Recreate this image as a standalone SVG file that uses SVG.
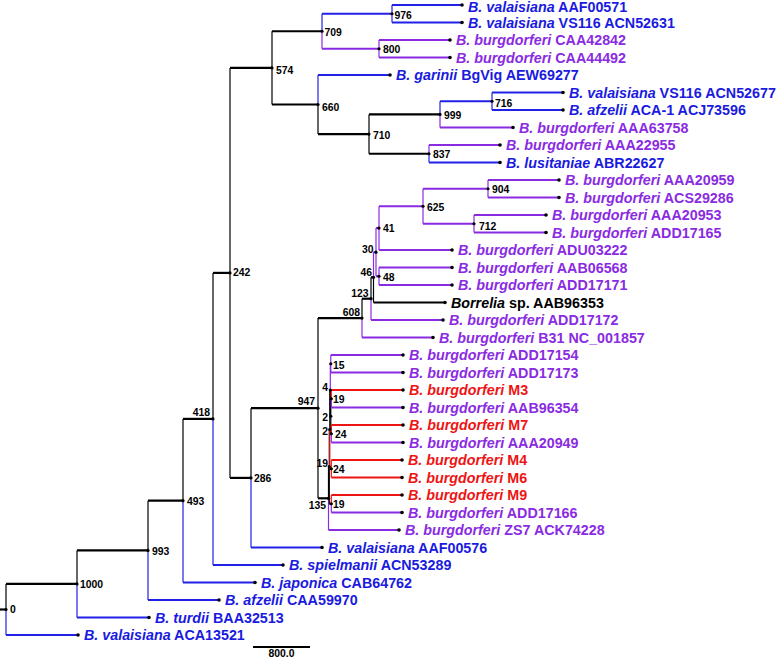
<svg xmlns="http://www.w3.org/2000/svg" width="777" height="658" viewBox="0 0 777 658">
<style>
.h{fill:none;stroke-width:2.2}
.v{fill:none;stroke-width:1.2}
.k{stroke:#000}.b{stroke:#2020e6}.p{stroke:#8a2be2}.r{stroke:#ee1414}
.lf{font-family:"Liberation Sans",Arial,sans-serif;font-weight:bold;font-size:14.3px}
.nl{font-family:"Liberation Sans",Arial,sans-serif;font-weight:bold;font-size:10.4px;fill:#000}
.ne{text-anchor:end}
.i{font-style:italic}
.cb{fill:#1a1ae0}.cp{fill:#8a2be2}.cr{fill:#ee1414}.ck{fill:#000}
.dot{fill:#000}
</style>
<g id="connectors">
<path class="h k" d="M0 609.5H6"/>
<path class="v k" d="M6 609.5V583.9"/><path class="h k" d="M6 583.9H77"/>
<path class="v b" d="M6 609.5V635"/><path class="h b" d="M6 635H78"/>
<path class="v k" d="M77 583.9V550.4"/><path class="h k" d="M77 550.4H148"/>
<path class="v b" d="M77 583.9V617.5"/><path class="h b" d="M77 617.5H149"/>
<path class="v k" d="M148 550.4V500.7"/><path class="h k" d="M148 500.7H183"/>
<path class="v b" d="M148 550.4V600"/><path class="h b" d="M148 600H219"/>
<path class="v k" d="M183 500.7V418.9"/><path class="h k" d="M183 418.9H213"/>
<path class="v b" d="M183 500.7V582.5"/><path class="h b" d="M183 582.5H255"/>
<path class="v k" d="M213 418.9V272.9"/><path class="h k" d="M213 272.9H230"/>
<path class="v b" d="M213 418.9V565"/><path class="h b" d="M213 565H283"/>
<path class="v k" d="M230 272.9V67.9"/><path class="h k" d="M230 67.9H272"/>
<path class="v k" d="M230 272.9V477.9"/><path class="h k" d="M230 477.9H251"/>
<path class="v k" d="M272 67.9V31.25"/><path class="h k" d="M272 31.25H322"/>
<path class="v k" d="M272 67.9V104.5"/><path class="h k" d="M272 104.5H318"/>
<path class="v b" d="M322 31.25V13.75"/><path class="h b" d="M322 13.75H392"/>
<path class="v p" d="M322 31.25V48.75"/><path class="h p" d="M322 48.75H379"/>
<path class="v b" d="M392 13.75V5"/><path class="h b" d="M392 5H462"/>
<path class="v b" d="M392 13.75V22.5"/><path class="h b" d="M392 22.5H462"/>
<path class="v p" d="M379 48.75V40"/><path class="h p" d="M379 40H450"/>
<path class="v p" d="M379 48.75V57.5"/><path class="h p" d="M379 57.5H450"/>
<path class="v b" d="M318 104.5V75"/><path class="h b" d="M318 75H390"/>
<path class="v k" d="M318 104.5V134.1"/><path class="h k" d="M318 134.1H369"/>
<path class="v k" d="M369 134.1V114.4"/><path class="h k" d="M369 114.4H440"/>
<path class="v k" d="M369 134.1V153.75"/><path class="h k" d="M369 153.75H429"/>
<path class="v b" d="M440 114.4V101.25"/><path class="h b" d="M440 101.25H492"/>
<path class="v p" d="M440 114.4V127.5"/><path class="h p" d="M440 127.5H513"/>
<path class="v b" d="M492 101.25V92.5"/><path class="h b" d="M492 92.5H563"/>
<path class="v b" d="M492 101.25V110"/><path class="h b" d="M492 110H563"/>
<path class="v p" d="M429 153.75V145"/><path class="h p" d="M429 145H500"/>
<path class="v b" d="M429 153.75V162.5"/><path class="h b" d="M429 162.5H500"/>
<path class="v k" d="M251 477.9V408.2"/><path class="h k" d="M251 408.2H318"/>
<path class="v b" d="M251 477.9V547.5"/><path class="h b" d="M251 547.5H322"/>
<path class="v k" d="M318 408.2V318.1"/><path class="h k" d="M318 318.1H362"/>
<path class="v k" d="M318 408.2V498.3"/><path class="h k" d="M318 498.3H328.5"/>
<path class="v k" d="M362 318.1V298.7"/><path class="h k" d="M362 298.7H371"/>
<path class="v p" d="M362 318.1V337.5"/><path class="h p" d="M362 337.5H433"/>
<path class="v k" d="M371 298.7V277.3"/><path class="h k" d="M371 277.3H373.5"/>
<path class="v p" d="M371 298.7V320"/><path class="h p" d="M371 320H443"/>
<path class="v p" d="M373.5 277.3V252.2"/><path class="h p" d="M373.5 252.2H376"/>
<path class="v k" d="M373.5 277.3V302.5"/><path class="h k" d="M373.5 302.5H445"/>
<path class="v p" d="M376 252.2V228.1"/><path class="h p" d="M376 228.1H379"/>
<path class="v p" d="M376 252.2V276.25"/><path class="h p" d="M376 276.25H379"/>
<path class="v p" d="M379 228.1V206.25"/><path class="h p" d="M379 206.25H423"/>
<path class="v p" d="M379 228.1V250"/><path class="h p" d="M379 250H452"/>
<path class="v p" d="M423 206.25V188.75"/><path class="h p" d="M423 188.75H488"/>
<path class="v p" d="M423 206.25V223.75"/><path class="h p" d="M423 223.75H474"/>
<path class="v p" d="M488 188.75V180"/><path class="h p" d="M488 180H559"/>
<path class="v p" d="M488 188.75V197.5"/><path class="h p" d="M488 197.5H559"/>
<path class="v p" d="M474 223.75V215"/><path class="h p" d="M474 215H546"/>
<path class="v p" d="M474 223.75V232.5"/><path class="h p" d="M474 232.5H546"/>
<path class="v p" d="M379 276.25V267.5"/><path class="h p" d="M379 267.5H452"/>
<path class="v p" d="M379 276.25V285"/><path class="h p" d="M379 285H452"/>
<path class="v k" d="M328.5 498.3V466.6"/><path class="h k" d="M328.5 466.6H329.3"/>
<path class="v p" d="M328.5 498.3V530"/><path class="h p" d="M328.5 530H399"/>
<path class="v k" d="M329.3 466.6V429.4"/><path class="h k" d="M329.3 429.4H329.8"/>
<path class="v k" d="M329.3 466.6V503.75"/><path class="h k" d="M329.3 503.75H331.3"/>
<path class="v k" d="M329.8 429.4V390"/><path class="h k" d="M329.8 390H330.3"/>
<path class="v r" d="M329.8 429.4V468.75"/><path class="h r" d="M329.8 468.75H331.3"/>
<path class="v p" d="M330.3 390V363.75"/><path class="h p" d="M330.3 363.75H330.8"/>
<path class="v k" d="M330.3 390V416.25"/><path class="h k" d="M330.3 416.25H330.8"/>
<path class="v k" d="M330.8 416.25V398.75"/><path class="h k" d="M330.8 398.75H331.3"/>
<path class="v k" d="M330.8 416.25V433.75"/><path class="h k" d="M330.8 433.75H331.3"/>
<path class="v p" d="M330.8 363.75V355"/><path class="h p" d="M330.8 355H403"/>
<path class="v p" d="M330.8 363.75V372.5"/><path class="h p" d="M330.8 372.5H403"/>
<path class="v r" d="M331.3 398.75V390"/><path class="h r" d="M331.3 390H403"/>
<path class="v p" d="M331.3 398.75V407.5"/><path class="h p" d="M331.3 407.5H403"/>
<path class="v r" d="M331.3 433.75V425"/><path class="h r" d="M331.3 425H403"/>
<path class="v p" d="M331.3 433.75V442.5"/><path class="h p" d="M331.3 442.5H403"/>
<path class="v r" d="M331.3 468.75V460"/><path class="h r" d="M331.3 460H402"/>
<path class="v r" d="M331.3 468.75V477.5"/><path class="h r" d="M331.3 477.5H402"/>
<path class="v r" d="M331.3 503.75V495"/><path class="h r" d="M331.3 495H402"/>
<path class="v p" d="M331.3 503.75V512.5"/><path class="h p" d="M331.3 512.5H402"/>
</g>
<g id="n0"><circle class="dot" cx="6" cy="609.5" r="1.6"/><text class="nl" x="10" y="613">0</text></g>
<g id="n1000"><circle class="dot" cx="77" cy="583.9" r="1.6"/><text class="nl" x="80" y="587.5">1000</text></g>
<g id="n993"><circle class="dot" cx="148" cy="550.4" r="1.6"/><text class="nl" x="152" y="554.5">993</text></g>
<g id="n493"><circle class="dot" cx="183" cy="500.7" r="1.6"/><text class="nl" x="187" y="505">493</text></g>
<g id="n418"><circle class="dot" cx="213" cy="418.9" r="1.6"/><text class="nl ne" x="210" y="416">418</text></g>
<g id="n242"><circle class="dot" cx="230" cy="272.9" r="1.6"/><text class="nl" x="233" y="276">242</text></g>
<g id="n574"><circle class="dot" cx="272" cy="67.9" r="1.6"/><text class="nl" x="276" y="74">574</text></g>
<g id="n709"><circle class="dot" cx="322" cy="31.25" r="1.6"/><text class="nl" x="324.5" y="36">709</text></g>
<g id="n976"><circle class="dot" cx="392" cy="13.75" r="1.6"/><text class="nl" x="394.5" y="19">976</text></g>
<g id="n800"><circle class="dot" cx="379" cy="48.75" r="1.6"/><text class="nl" x="383" y="53">800</text></g>
<g id="n660"><circle class="dot" cx="318" cy="104.5" r="1.6"/><text class="nl" x="322" y="111">660</text></g>
<g id="n710"><circle class="dot" cx="369" cy="134.1" r="1.6"/><text class="nl" x="373" y="139">710</text></g>
<g id="n999"><circle class="dot" cx="440" cy="114.4" r="1.6"/><text class="nl" x="444" y="119">999</text></g>
<g id="n716"><circle class="dot" cx="492" cy="101.25" r="1.6"/><text class="nl" x="495" y="107">716</text></g>
<g id="n837"><circle class="dot" cx="429" cy="153.75" r="1.6"/><text class="nl" x="433" y="158">837</text></g>
<g id="n286"><circle class="dot" cx="251" cy="477.9" r="1.6"/><text class="nl" x="254" y="481.5">286</text></g>
<g id="n947"><circle class="dot" cx="318" cy="408.2" r="1.6"/><text class="nl ne" x="315" y="405">947</text></g>
<g id="n608"><circle class="dot" cx="362" cy="318.1" r="1.6"/><text class="nl ne" x="360" y="316">608</text></g>
<g id="n123"><circle class="dot" cx="371" cy="298.7" r="1.6"/><text class="nl ne" x="368.5" y="297">123</text></g>
<g id="n46"><circle class="dot" cx="373.5" cy="277.3" r="1.6"/><text class="nl ne" x="372" y="276">46</text></g>
<g id="n30"><circle class="dot" cx="376" cy="252.2" r="1.6"/><text class="nl ne" x="373.5" y="253">30</text></g>
<g id="n41"><circle class="dot" cx="379" cy="228.1" r="1.6"/><text class="nl" x="383" y="232">41</text></g>
<g id="n48"><circle class="dot" cx="379" cy="276.25" r="1.6"/><text class="nl" x="383" y="281">48</text></g>
<g id="n625"><circle class="dot" cx="423" cy="206.25" r="1.6"/><text class="nl" x="427" y="211">625</text></g>
<g id="n904"><circle class="dot" cx="488" cy="188.75" r="1.6"/><text class="nl" x="492" y="193">904</text></g>
<g id="n712"><circle class="dot" cx="474" cy="223.75" r="1.6"/><text class="nl" x="479" y="230">712</text></g>
<g id="n135"><circle class="dot" cx="328.5" cy="498.3" r="1.6"/><text class="nl ne" x="326" y="509">135</text></g>
<g id="n19b"><circle class="dot" cx="329.3" cy="466.6" r="1.6"/><text class="nl ne" x="328" y="467">19</text></g>
<g id="n2b"><circle class="dot" cx="329.8" cy="429.4" r="1.6"/><text class="nl ne" x="328" y="435">2</text></g>
<g id="n4"><circle class="dot" cx="330.3" cy="390" r="1.6"/><text class="nl ne" x="328" y="391">4</text></g>
<g id="n2a"><circle class="dot" cx="330.8" cy="416.25" r="1.6"/><text class="nl ne" x="328" y="421">2</text></g>
<g id="n15"><circle class="dot" cx="330.8" cy="363.75" r="1.6"/><text class="nl" x="333" y="369">15</text></g>
<g id="n19a"><circle class="dot" cx="331.3" cy="398.75" r="1.6"/><text class="nl" x="333" y="403">19</text></g>
<g id="n24a"><circle class="dot" cx="331.3" cy="433.75" r="1.6"/><text class="nl" x="335" y="438">24</text></g>
<g id="n24b"><circle class="dot" cx="331.3" cy="468.75" r="1.6"/><text class="nl" x="333" y="473">24</text></g>
<g id="n19c"><circle class="dot" cx="331.3" cy="503.75" r="1.6"/><text class="nl" x="333" y="507.5">19</text></g>
<g id="L1"><circle class="dot" cx="462" cy="5" r="1.8"/><text class="lf cb" x="468" y="11.5"><tspan class="i">B. valaisiana</tspan> AAF00571</text></g>
<g id="L2"><circle class="dot" cx="462" cy="22.5" r="1.8"/><text class="lf cb" x="468" y="27.5"><tspan class="i">B. valaisiana</tspan> VS116 ACN52631</text></g>
<g id="L3"><circle class="dot" cx="450" cy="40" r="1.8"/><text class="lf cp" x="456" y="45"><tspan class="i">B. burgdorferi</tspan> CAA42842</text></g>
<g id="L4"><circle class="dot" cx="450" cy="57.5" r="1.8"/><text class="lf cp" x="456" y="62.5"><tspan class="i">B. burgdorferi</tspan> CAA44492</text></g>
<g id="L5"><circle class="dot" cx="390" cy="75" r="1.8"/><text class="lf cb" x="396" y="80"><tspan class="i">B. garinii</tspan> BgVig AEW69277</text></g>
<g id="L6"><circle class="dot" cx="563" cy="92.5" r="1.8"/><text class="lf cb" x="569" y="97.5"><tspan class="i">B. valaisiana</tspan> VS116 ACN52677</text></g>
<g id="L7"><circle class="dot" cx="563" cy="110" r="1.8"/><text class="lf cb" x="569" y="115"><tspan class="i">B. afzelii</tspan> ACA-1 ACJ73596</text></g>
<g id="L8"><circle class="dot" cx="513" cy="127.5" r="1.8"/><text class="lf cp" x="519" y="132.5"><tspan class="i">B. burgdorferi</tspan> AAA63758</text></g>
<g id="L9"><circle class="dot" cx="500" cy="145" r="1.8"/><text class="lf cp" x="506" y="150"><tspan class="i">B. burgdorferi</tspan> AAA22955</text></g>
<g id="L10"><circle class="dot" cx="500" cy="162.5" r="1.8"/><text class="lf cb" x="506" y="167.5"><tspan class="i">B. lusitaniae</tspan> ABR22627</text></g>
<g id="L11"><circle class="dot" cx="559" cy="180" r="1.8"/><text class="lf cp" x="565" y="185"><tspan class="i">B. burgdorferi</tspan> AAA20959</text></g>
<g id="L12"><circle class="dot" cx="559" cy="197.5" r="1.8"/><text class="lf cp" x="565" y="202.5"><tspan class="i">B. burgdorferi</tspan> ACS29286</text></g>
<g id="L13"><circle class="dot" cx="546" cy="215" r="1.8"/><text class="lf cp" x="552" y="220"><tspan class="i">B. burgdorferi</tspan> AAA20953</text></g>
<g id="L14"><circle class="dot" cx="546" cy="232.5" r="1.8"/><text class="lf cp" x="552" y="237.5"><tspan class="i">B. burgdorferi</tspan> ADD17165</text></g>
<g id="L15"><circle class="dot" cx="452" cy="250" r="1.8"/><text class="lf cp" x="458" y="255"><tspan class="i">B. burgdorferi</tspan> ADU03222</text></g>
<g id="L16"><circle class="dot" cx="452" cy="267.5" r="1.8"/><text class="lf cp" x="458" y="272.5"><tspan class="i">B. burgdorferi</tspan> AAB06568</text></g>
<g id="L17"><circle class="dot" cx="452" cy="285" r="1.8"/><text class="lf cp" x="458" y="290"><tspan class="i">B. burgdorferi</tspan> ADD17171</text></g>
<g id="L18"><circle class="dot" cx="445" cy="302.5" r="1.8"/><text class="lf ck" x="451" y="307.5"><tspan class="i">Borrelia</tspan> sp. AAB96353</text></g>
<g id="L19"><circle class="dot" cx="443" cy="320" r="1.8"/><text class="lf cp" x="449" y="325"><tspan class="i">B. burgdorferi</tspan> ADD17172</text></g>
<g id="L20"><circle class="dot" cx="433" cy="337.5" r="1.8"/><text class="lf cp" x="439" y="342.5"><tspan class="i">B. burgdorferi</tspan> B31 NC_001857</text></g>
<g id="L21"><circle class="dot" cx="403" cy="355" r="1.8"/><text class="lf cp" x="409" y="360"><tspan class="i">B. burgdorferi</tspan> ADD17154</text></g>
<g id="L22"><circle class="dot" cx="403" cy="372.5" r="1.8"/><text class="lf cp" x="409" y="377.5"><tspan class="i">B. burgdorferi</tspan> ADD17173</text></g>
<g id="L23"><circle class="dot" cx="403" cy="390" r="1.8"/><text class="lf cr" x="409" y="395"><tspan class="i">B. burgdorferi</tspan> M3</text></g>
<g id="L24"><circle class="dot" cx="403" cy="407.5" r="1.8"/><text class="lf cp" x="409" y="412.5"><tspan class="i">B. burgdorferi</tspan> AAB96354</text></g>
<g id="L25"><circle class="dot" cx="403" cy="425" r="1.8"/><text class="lf cr" x="409" y="430"><tspan class="i">B. burgdorferi</tspan> M7</text></g>
<g id="L26"><circle class="dot" cx="403" cy="442.5" r="1.8"/><text class="lf cp" x="409" y="447.5"><tspan class="i">B. burgdorferi</tspan> AAA20949</text></g>
<g id="L27"><circle class="dot" cx="402" cy="460" r="1.8"/><text class="lf cr" x="408" y="465"><tspan class="i">B. burgdorferi</tspan> M4</text></g>
<g id="L28"><circle class="dot" cx="402" cy="477.5" r="1.8"/><text class="lf cr" x="408" y="482.5"><tspan class="i">B. burgdorferi</tspan> M6</text></g>
<g id="L29"><circle class="dot" cx="402" cy="495" r="1.8"/><text class="lf cr" x="408" y="500"><tspan class="i">B. burgdorferi</tspan> M9</text></g>
<g id="L30"><circle class="dot" cx="402" cy="512.5" r="1.8"/><text class="lf cp" x="408" y="517.5"><tspan class="i">B. burgdorferi</tspan> ADD17166</text></g>
<g id="L31"><circle class="dot" cx="399" cy="530" r="1.8"/><text class="lf cp" x="405" y="535"><tspan class="i">B. burgdorferi</tspan> ZS7 ACK74228</text></g>
<g id="L32"><circle class="dot" cx="322" cy="547.5" r="1.8"/><text class="lf cb" x="328" y="552.5"><tspan class="i">B. valaisiana</tspan> AAF00576</text></g>
<g id="L33"><circle class="dot" cx="283" cy="565" r="1.8"/><text class="lf cb" x="289" y="570"><tspan class="i">B. spielmanii</tspan> ACN53289</text></g>
<g id="L34"><circle class="dot" cx="255" cy="582.5" r="1.8"/><text class="lf cb" x="261" y="587.5"><tspan class="i">B. japonica</tspan> CAB64762</text></g>
<g id="L35"><circle class="dot" cx="219" cy="600" r="1.8"/><text class="lf cb" x="225" y="605"><tspan class="i">B. afzelii</tspan> CAA59970</text></g>
<g id="L36"><circle class="dot" cx="149" cy="617.5" r="1.8"/><text class="lf cb" x="155" y="622.5"><tspan class="i">B. turdii</tspan> BAA32513</text></g>
<g id="L37"><circle class="dot" cx="78" cy="635" r="1.8"/><text class="lf cb" x="84" y="640"><tspan class="i">B. valaisiana</tspan> ACA13521</text></g>
<g id="scale"><path d="M253 647H310" stroke="#000" stroke-width="2"/><text class="nl" x="281.5" y="657" text-anchor="middle">800.0</text></g>
</svg>
